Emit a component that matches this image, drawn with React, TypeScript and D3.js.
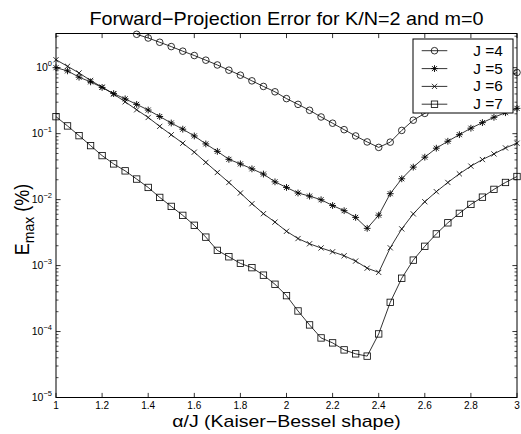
import React from "react";
import * as d3 from "d3";

const ALPHA = [1.0, 1.05, 1.1, 1.15, 1.2, 1.25, 1.3, 1.35, 1.4, 1.45, 1.5, 1.55, 1.6, 1.65, 1.7, 1.75, 1.8, 1.85, 1.9, 1.95, 2.0, 2.05, 2.1, 2.15, 2.2, 2.25, 2.3, 2.35, 2.4, 2.45, 2.5, 2.55, 2.6, 2.65, 2.7, 2.75, 2.8, 2.85, 2.9, 2.95, 3.0];

// J=4 starts at alpha = 1.35 (earlier values lie above the plotted range)
const J4_START = 7;
const J4 = [3.21, 2.82, 2.43, 2.09, 1.78, 1.53, 1.3, 1.1, 0.917, 0.77, 0.632, 0.52, 0.431, 0.34, 0.278, 0.226, 0.179, 0.144, 0.115, 0.0923, 0.0749, 0.0619, 0.0744, 0.112, 0.16, 0.203, 0.258, 0.318, 0.384, 0.457, 0.535, 0.625, 0.731, 0.846];
const J5 = [1.0, 0.895, 0.718, 0.61, 0.502, 0.405, 0.337, 0.278, 0.228, 0.182, 0.145, 0.117, 0.0923, 0.0699, 0.0539, 0.0408, 0.0348, 0.0293, 0.0244, 0.0186, 0.0153, 0.0126, 0.0113, 0.00996, 0.00814, 0.0068, 0.00538, 0.00367, 0.00581, 0.0123, 0.0207, 0.0311, 0.044, 0.0602, 0.0767, 0.0966, 0.121, 0.147, 0.177, 0.208, 0.242];
const J6 = [1.32, 1.05, 0.832, 0.641, 0.508, 0.398, 0.304, 0.23, 0.176, 0.129, 0.0962, 0.0716, 0.0524, 0.0367, 0.0258, 0.0182, 0.0126, 0.00867, 0.00612, 0.00456, 0.00331, 0.00257, 0.00214, 0.00185, 0.00162, 0.00141, 0.00117, 0.000914, 0.000787, 0.00186, 0.0036, 0.00608, 0.00929, 0.0132, 0.0182, 0.0246, 0.0322, 0.0405, 0.0493, 0.0608, 0.0716];
const J7 = [0.181, 0.131, 0.0933, 0.0659, 0.0465, 0.0348, 0.0273, 0.0205, 0.0153, 0.0108, 0.00789, 0.00577, 0.00408, 0.0027, 0.0017, 0.00136, 0.00108, 0.00093, 0.000716, 0.000521, 0.00035, 0.000205, 0.000126, 0.00008, 0.0000673, 0.0000527, 0.0000459, 0.0000424, 0.000092, 0.000277, 0.000643, 0.00121, 0.00196, 0.00302, 0.00445, 0.00619, 0.00846, 0.0109, 0.0143, 0.0182, 0.0224];

const X_TICKS = [1, 1.2, 1.4, 1.6, 1.8, 2, 2.2, 2.4, 2.6, 2.8, 3];
const X_TICK_LABELS = ["1", "1.2", "1.4", "1.6", "1.8", "2", "2.2", "2.4", "2.6", "2.8", "3"];
const Y_EXPONENTS = [-5, -4, -3, -2, -1, 0];
const LEGEND_LABELS = ["J =4", "J =5", "J =6", "J =7"];
const MARKERS = ["circle", "star", "x", "square"];

const TITLE = "Forward\u2212Projection Error for K/N=2 and m=0";
const XLABEL = "\u03b1/J (Kaiser\u2212Bessel shape)";

const W = 521;
const H = 434;
const L = 56, R = 517, T = 33.5, B = 397.5;
const SX = 1.1;
const FONT = "Liberation Sans, Arial, Helvetica, sans-serif";

const x = d3.scaleLinear().domain([1, 3]).range([L, R]);
const y = d3.scaleLog().domain([1e-5, 3.3]).range([B, T]);

function marker(kind: string, cx: number, cy: number, key: string | number) {
  const s = 3.2;
  if (kind === "circle") return <circle key={key} cx={cx} cy={cy} r={3.3} fill="none" stroke="#000" strokeWidth={0.8} />;
  if (kind === "square") return <rect key={key} x={cx - s} y={cy - s} width={2 * s} height={2 * s} fill="none" stroke="#000" strokeWidth={0.8} />;
  if (kind === "x") {
    const a = 2.6;
    return <path key={key} d={`M${cx - a},${cy - a}L${cx + a},${cy + a}M${cx - a},${cy + a}L${cx + a},${cy - a}`} stroke="#000" strokeWidth={0.8} />;
  }
  const a = 3.4, b = 2.5;
  return <path key={key} d={`M${cx - a},${cy}L${cx + a},${cy}M${cx},${cy - a}L${cx},${cy + a}M${cx - b},${cy - b}L${cx + b},${cy + b}M${cx - b},${cy + b}L${cx + b},${cy - b}`} stroke="#000" strokeWidth={0.9} />;
}

export default function App() {
  const series = [
    { xs: ALPHA.slice(J4_START), ys: J4 },
    { xs: ALPHA, ys: J5 },
    { xs: ALPHA, ys: J6 },
    { xs: ALPHA, ys: J7 },
  ];
  const line = d3.line<[number, number]>().x((d) => x(d[0])).y((d) => y(d[1]));

  const minor: number[] = [];
  for (let e = -5; e < 1; e++) for (let m = 2; m <= 9; m++) { const v = m * Math.pow(10, e); if (v <= 3.3) minor.push(v); }

  const legX0 = 413, legX1 = 513, legY0 = 39, legY1 = 113;
  const rowY = [50.7, 68.6, 86.4, 104.2];

  return (
    <svg width={W} height={H} style={{ position: "absolute", left: 0, top: 0, background: "#fff" }} fontFamily={FONT}>
      <rect x={0} y={0} width={W} height={H} fill="#fff" />
      {/* ticks */}
      {X_TICKS.map((t, i) => (
        <g key={"xt" + i}>
          <line x1={x(t)} x2={x(t)} y1={B} y2={B - 4.6} stroke="#000" strokeWidth={0.8} />
          <line x1={x(t)} x2={x(t)} y1={T} y2={T + 4.6} stroke="#000" strokeWidth={0.8} />
          <text x={x(t)} y={409} textAnchor="middle" fontSize={10}>{X_TICK_LABELS[i]}</text>
        </g>
      ))}
      {Y_EXPONENTS.map((e) => {
        const yy = y(Math.pow(10, e));
        return (
          <g key={"yt" + e}>
            <line x1={L} x2={L + 4.6} y1={yy} y2={yy} stroke="#000" strokeWidth={0.8} />
            <line x1={R} x2={R - 4.6} y1={yy} y2={yy} stroke="#000" strokeWidth={0.8} />
            <text x={52} y={yy + 3.3} textAnchor="end" fontSize={10.5}>
              10<tspan fontSize={7.5} dy={-4.8}>{e < 0 ? "\u2212" + Math.abs(e) : String(e)}</tspan>
            </text>
          </g>
        );
      })}
      {minor.map((v, i) => (
        <g key={"mn" + i}>
          <line x1={L} x2={L + 2.5} y1={y(v)} y2={y(v)} stroke="#000" strokeWidth={0.7} />
          <line x1={R} x2={R - 2.5} y1={y(v)} y2={y(v)} stroke="#000" strokeWidth={0.7} />
        </g>
      ))}
      {/* series */}
      {series.map((s, k) => {
        const pts = s.xs.map((a, i) => [a, s.ys[i]] as [number, number]);
        return (
          <g key={"s" + k}>
            <path d={line(pts) || ""} fill="none" stroke="#000" strokeWidth={0.8} />
            {pts.map((p, i) => marker(MARKERS[k], x(p[0]), y(p[1]), i))}
          </g>
        );
      })}
      {/* axes box */}
      <rect x={L} y={T} width={R - L} height={B - T} fill="none" stroke="#000" strokeWidth={1} />
      {/* legend */}
      <rect x={legX0} y={legY0} width={legX1 - legX0} height={legY1 - legY0} fill="#fff" stroke="#000" strokeWidth={1} />
      {LEGEND_LABELS.map((lab, k) => (
        <g key={"lg" + k}>
          <line x1={421.7} x2={447.3} y1={rowY[k]} y2={rowY[k]} stroke="#000" strokeWidth={0.8} />
          {marker(MARKERS[k], 434.5, rowY[k], "m")}
          <text transform={`translate(473.3,${rowY[k] + 5}) scale(${SX},1)`} fontSize={14}>{lab}</text>
        </g>
      ))}
      {/* title and labels */}
      <text transform={`translate(${(L + R) / 2},25) scale(${SX},1)`} textAnchor="middle" fontSize={18}>{TITLE}</text>
      <text transform={`translate(${(L + R) / 2},426.5) scale(1.22,1)`} textAnchor="middle" fontSize={16}>{XLABEL}</text>
      <text transform={`translate(29.3,219.5) scale(${SX},1) rotate(-90)`} textAnchor="middle" fontSize={18}>
        E<tspan fontSize={14} dy={4}>max</tspan><tspan dy={-4}> (%)</tspan>
      </text>
    </svg>
  );
}
